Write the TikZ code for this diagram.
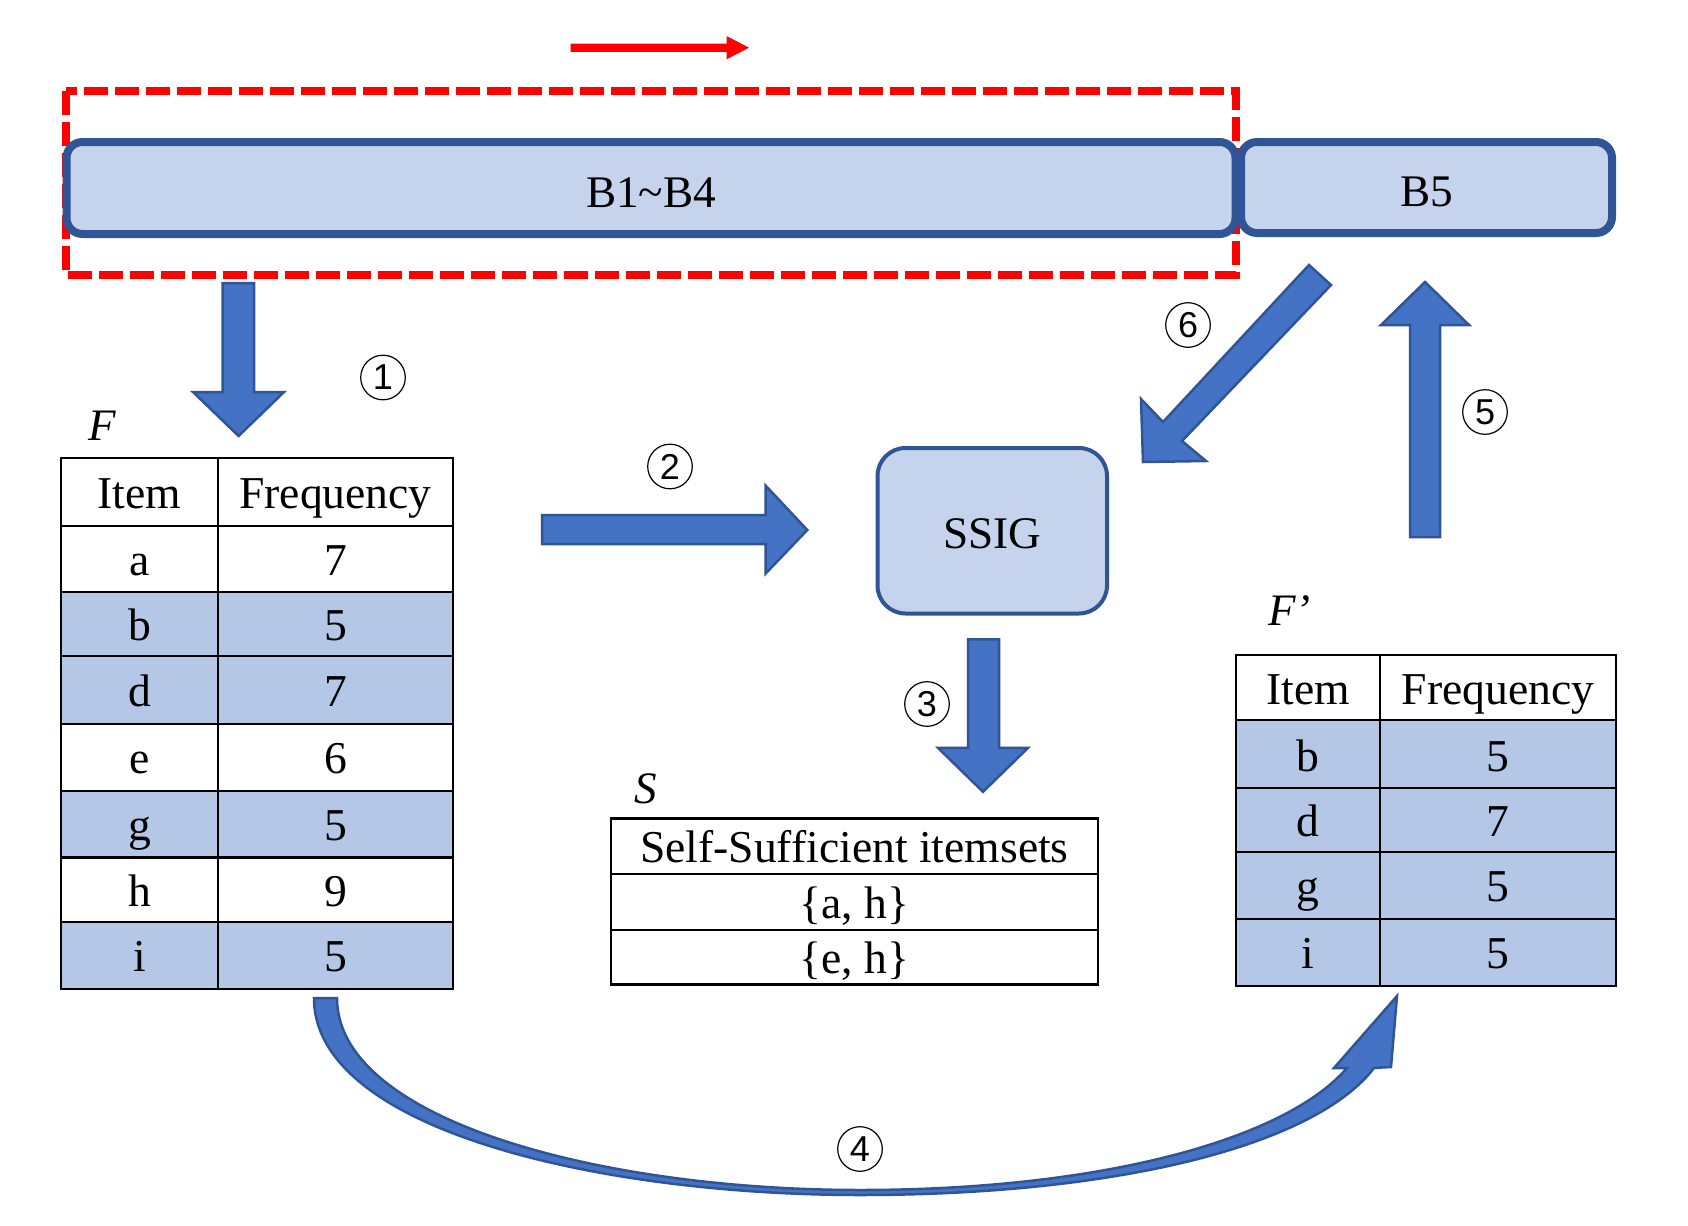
\documentclass[tikz,border=0pt]{standalone}
\usepackage{fontspec}
\setmainfont{Liberation Serif}
\newfontfamily\circfont{Liberation Sans}
\definecolor{boxfill}{RGB}{197,211,236}
\definecolor{boxline}{RGB}{47,85,151}
\definecolor{arrfill}{RGB}{68,114,196}
\definecolor{rowblue}{RGB}{180,199,231}
\begin{document}
\begin{tikzpicture}[x=0.5pt,y=-0.5pt,
  bbox/.style={draw=boxline, fill=boxfill, line width=4pt, rounded corners=8pt, inner sep=0pt, text height=19pt, text depth=0pt, font=\fontsize{22.6}{27}\selectfont},
  blockarrow/.style={draw=boxline, fill=arrfill, line width=1.25pt, line join=miter},
  cell/.style={anchor=base, font=\fontsize{22.8}{27}\selectfont, inner sep=0pt},
  tline/.style={line width=1.2pt, black},
  circnum/.style={circle, draw=black, line width=0.6pt, minimum size=22.3pt, inner sep=0pt, font=\circfont\fontsize{18}{20}\selectfont},
  lbl/.style={anchor=base west, font=\itshape\fontsize{22.5}{27}\selectfont, inner sep=0pt}
]
\useasboundingbox (0,0) rectangle (1688,1226);

% red direction arrow
\fill[red] (570.6,43.7) -- (726.5,43.7) -- (726.5,36) -- (749,47.7) -- (726.5,59.4) -- (726.5,51.8) -- (570.6,51.8) -- cycle;

% dashed window
\draw[red, line width=4pt, dash pattern=on 12pt off 3.5pt] (66,91) rectangle (1236,275);

% batch boxes
\node[bbox, minimum width=584.5pt, minimum height=46pt] (b14) at (651,188) {B1\textasciitilde B4};
\node[bbox, minimum width=185.5pt, minimum height=45.5pt] (b5) at (1426.5,187.5) {B5};

% SSIG
\node[bbox, line width=2pt, rounded corners=14pt, minimum width=114.75pt, minimum height=82.75pt, text height=18pt] (ssig) at (992.25,530.75) {SSIG};

% block arrows
\draw[blockarrow] (222.5,283) -- (254,283) -- (254,392) -- (284,392) -- (238.6,436) -- (193,392) -- (222.5,392) -- cycle;
\draw[blockarrow] (542,515) -- (765.7,515) -- (765.7,485.7) -- (807.3,530) -- (765.7,573.5) -- (765.7,544) -- (542,544) -- cycle;
\draw[blockarrow] (968,639.3) -- (999,639.3) -- (999,747.9) -- (1028,747.9) -- (983,791.8) -- (938,747.9) -- (968,747.9) -- cycle;
\draw[blockarrow] (1410,537) -- (1440,537) -- (1440,325) -- (1469,325) -- (1425,282) -- (1381,325) -- (1410,325) -- cycle;
\draw[blockarrow] (1309,265) -- (1331,285) -- (1182,441) -- (1206,461) -- (1143,462) -- (1141,399) -- (1163,422) -- cycle;

% curved arrow 4
\draw[blockarrow] (314,998) .. controls (314,1130) and (600,1195) .. (860,1195)
  .. controls (1120,1195) and (1315,1145) .. (1374,1068) -- (1391,1067) -- (1397,996) -- (1334,1068) -- (1347,1068)
  .. controls (1285,1140) and (1100,1190) .. (860,1190)
  .. controls (600,1190) and (337,1120) .. (337,998) -- cycle;

% table F
\fill[rowblue] (61,592) rectangle (453,724);
\fill[rowblue] (61,791) rectangle (453,857.5);
\fill[rowblue] (61,922) rectangle (453,989);
\draw[tline] (61,458) rectangle (453,989);
\draw[tline] (218,458) -- (218,989);
\foreach \yy in {526,592,656,724,791,857.5,922} \draw[tline] (61,\yy) -- (453,\yy);
\node[lbl] (flab) at (88,440) {F};
\node[cell] (fh1) at (139.5,508) {Item};
\node[cell] (fh2) at (335.5,508) {Frequency};
\node[cell] (fa1) at (139.5,575.5) {a};  \node[cell] (fa2) at (335.5,575.5) {7};
\node[cell] (fb1) at (139.5,640) {b};    \node[cell] (fb2) at (335.5,640) {5};
\node[cell] (fd1) at (139.5,706) {d};    \node[cell] (fd2) at (335.5,706) {7};
\node[cell] (fe1) at (139.5,773.5) {e};  \node[cell] (fe2) at (335.5,773.5) {6};
\node[cell] (fg1) at (139.5,840) {g};    \node[cell] (fg2) at (335.5,840) {5};
\node[cell] (fhh1) at (139.5,906) {h};   \node[cell] (fhh2) at (335.5,906) {9};
\node[cell] (fi1) at (139.5,971.5) {i};  \node[cell] (fi2) at (335.5,971.5) {5};

% table F'
\fill[rowblue] (1236,720) rectangle (1615.7,985.7);
\draw[tline] (1236,654.7) rectangle (1615.7,985.7);
\draw[tline] (1380,654.7) -- (1380,985.7);
\foreach \yy in {720,787.7,851.7,919} \draw[tline] (1236,\yy) -- (1615.7,\yy);
\node[lbl] (fplab) at (1268,625) {F’};
\node[cell] (gh1) at (1308,704) {Item};
\node[cell] (gh2) at (1498,704) {Frequency};
\node[cell] (gb1) at (1308,771) {b};  \node[cell] (gb2) at (1498,771) {5};
\node[cell] (gd1) at (1308,836.5) {d};  \node[cell] (gd2) at (1498,836.5) {7};
\node[cell] (gg1) at (1308,901.5) {g};  \node[cell] (gg2) at (1498,901.5) {5};
\node[cell] (gi1) at (1308,968) {i};  \node[cell] (gi2) at (1498,968) {5};

% table S
\draw[tline] (610.7,818.3) rectangle (1098,984.4);
\foreach \yy in {874.2,930} \draw[tline] (610.7,\yy) -- (1098,\yy);
\node[lbl] (slab) at (634,803.7) {S};
\node[cell] (sh) at (854.4,862.5) {Self-Sufficient itemsets};
\node[cell] (s1) at (854.4,918) {\{a, h\}};
\node[cell] (s2) at (854.4,973.2) {\{e, h\}};

% step numbers
\node[circnum] (n1) at (383,377.5) {1};
\node[circnum] (n2) at (670,466.5) {2};
\node[circnum] (n3) at (927,704) {3};
\node[circnum] (n4) at (860,1149) {4};
\node[circnum] (n5) at (1485,412) {5};
\node[circnum] (n6) at (1188,325) {6};
\end{tikzpicture}
\end{document}
